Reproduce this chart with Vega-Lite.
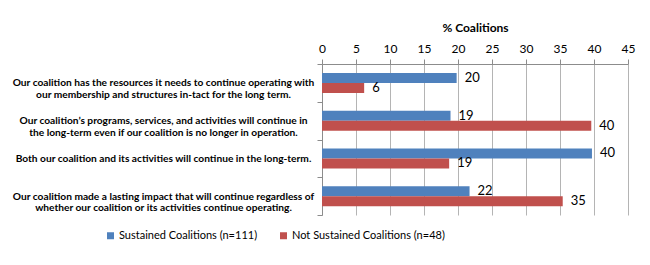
{
  "$schema": "https://vega.github.io/schema/vega-lite/v6.json",
  "width": 306,
  "height": 151,
  "autosize": {"type": "none"},
  "padding": {"left": 322, "top": 64, "right": 22, "bottom": 50},
  "background": "white",
  "config": {"view": {"stroke": null}, "font": "Lato"},
  "data": {
    "values": [
      {"statement": "Our coalition has the resources it needs to continue operating with\nour membership and structures in-tact for the long term.", "series": "Sustained Coalitions (n=111)", "value": 19.8},
      {"statement": "Our coalition has the resources it needs to continue operating with\nour membership and structures in-tact for the long term.", "series": "Not Sustained Coalitions (n=48)", "value": 6.2},
      {"statement": "Our coalition\u2019s programs, services, and activities will continue in\nthe long-term even if our coalition is no longer in operation.", "series": "Sustained Coalitions (n=111)", "value": 18.9},
      {"statement": "Our coalition\u2019s programs, services, and activities will continue in\nthe long-term even if our coalition is no longer in operation.", "series": "Not Sustained Coalitions (n=48)", "value": 39.6},
      {"statement": "Both our coalition and its activities will continue in the long-term.", "series": "Sustained Coalitions (n=111)", "value": 39.7},
      {"statement": "Both our coalition and its activities will continue in the long-term.", "series": "Not Sustained Coalitions (n=48)", "value": 18.7},
      {"statement": "Our coalition made a lasting impact that will continue regardless of\nwhether our coalition or its activities continue operating.", "series": "Sustained Coalitions (n=111)", "value": 21.7},
      {"statement": "Our coalition made a lasting impact that will continue regardless of\nwhether our coalition or its activities continue operating.", "series": "Not Sustained Coalitions (n=48)", "value": 35.4}
    ]
  },
  "encoding": {
    "y": {
      "field": "statement", "type": "nominal", "sort": null,
      "scale": {"paddingInner": 0, "paddingOuter": 0},
      "axis": {
        "title": null, "tickBand": "extent", "tickSize": 5, "tickColor": "#8c8c8c", "domainColor": "#8c8c8c",
        "labelAlign": "center", "labelPadding": 154, "labelExpr": "split(datum.label, '\\n')",
        "labelFontWeight": "bold", "labelFontSize": 10.2, "labelColor": "#000000", "labelLineHeight": 11.5, "labelLimit": 0
      }
    },
    "yOffset": {"field": "series", "sort": null, "scale": {"paddingInner": 0, "paddingOuter": 0.8875}},
    "x": {
      "field": "value", "type": "quantitative",
      "scale": {"domain": [0, 45], "nice": false},
      "axis": {
        "orient": "top", "values": [0, 5, 10, 15, 20, 25, 30, 35, 40, 45],
        "title": "% Coalitions", "titleFontWeight": "bold", "titleFontSize": 12, "titleColor": "#000000", "titlePadding": 8,
        "labelFontSize": 12, "labelColor": "#000000", "labelPadding": 4, "labelFlush": false,
        "tickSize": 5, "tickColor": "#8c8c8c", "domainColor": "#8c8c8c", "gridColor": "#b4b4b4"
      }
    }
  },
  "layer": [
    {
      "mark": {"type": "bar"},
      "encoding": {
        "color": {
          "field": "series", "type": "nominal", "sort": null,
          "scale": {"domain": ["Sustained Coalitions (n=111)", "Not Sustained Coalitions (n=48)"], "range": ["#4F81BD", "#C0504D"]},
          "legend": {
            "title": null, "orient": "none", "direction": "horizontal", "legendX": -217, "legendY": 166,
            "symbolType": "square", "symbolSize": 49, "symbolStrokeWidth": 0, "labelFontSize": 11, "labelColor": "#000000",
            "labelOffset": 3, "columnPadding": 20, "labelLimit": 0
          }
        }
      }
    },
    {
      "mark": {"type": "text", "align": "left", "baseline": "middle", "dx": 8, "fontSize": 13, "color": "#000000"},
      "encoding": {"text": {"field": "value", "type": "quantitative", "format": ".0f"}}
    }
  ]
}
